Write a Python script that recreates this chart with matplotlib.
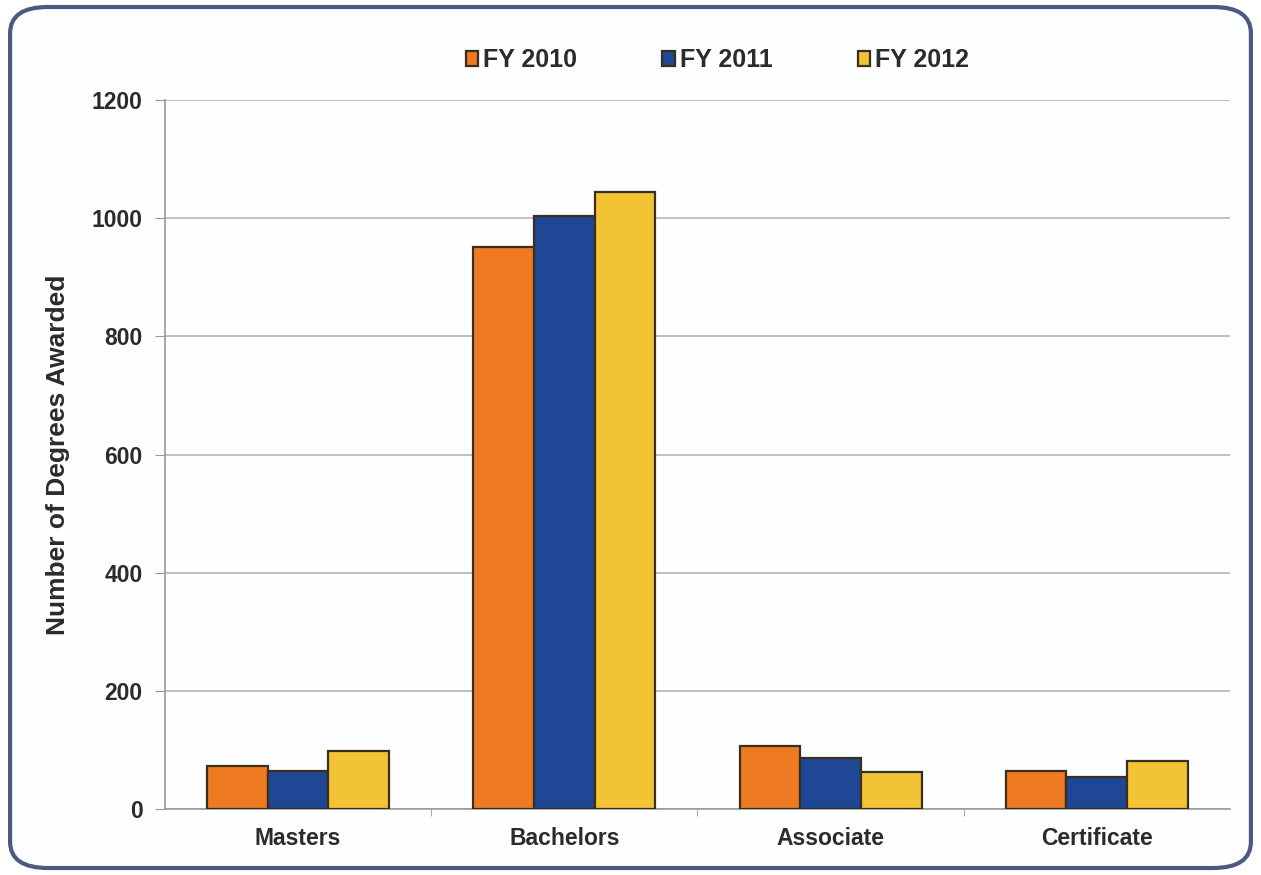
import numpy as np
import matplotlib
matplotlib.use("Agg")
import matplotlib.pyplot as plt
from matplotlib.patches import FancyBboxPatch

plt.rcParams['font.family'] = ['Liberation Sans', 'DejaVu Sans']

categories = ["Masters", "Bachelors", "Associate", "Certificate"]
years = ["FY 2010", "FY 2011", "FY 2012"]
fy2010 = [73, 951, 106, 64]
fy2011 = [64, 1004, 86, 54]
fy2012 = [98, 1044, 62, 81]

colors = ["#EE7A22", "#1E4796", "#F2C332"]
edge = "#3b2e1c"
txt = "#2b2b2b"

fig = plt.figure(figsize=(12.61, 8.75), dpi=100)
fig.patch.set_facecolor("white")

# rounded frame around everything
frame = FancyBboxPatch((0.008, 0.008), 0.984, 0.984,
                       boxstyle="round,pad=0,rounding_size=0.03",
                       transform=fig.transFigure, facecolor="#fdfeff",
                       edgecolor="#4a5a80", linewidth=3, zorder=-5)
fig.patches.append(frame)

ax = fig.add_axes([0.1308, 0.0754, 0.8446, 0.8103])
ax.set_facecolor("none")

x = np.arange(len(categories))
w = 0.228
for i, (vals, lab) in enumerate(zip([fy2010, fy2011, fy2012], years)):
    ax.bar(x + (i - 1) * w, vals, w, color=colors[i], edgecolor=edge,
           linewidth=1.6, label=lab, zorder=3)

ax.set_xlim(-0.5, len(categories) - 0.5)
ax.set_ylim(0, 1200)
ax.set_yticks(range(0, 1201, 200))
ax.yaxis.grid(True, color="#b5b5b5", linewidth=1.2, zorder=0)
ax.set_xticks(x)
ax.set_xticklabels(categories, fontsize=16.5, fontweight="bold", color=txt)
ax.set_xticks(np.arange(0.5, len(categories) - 1, 1), minor=True)
ax.tick_params(axis="x", which="major", length=0, pad=13)
ax.tick_params(axis="x", which="minor", length=5, color="#999999")
ax.tick_params(axis="y", labelsize=16.5, length=7, color="#999999", pad=9,
               labelcolor=txt)
for lbl in ax.get_yticklabels():
    lbl.set_fontweight("bold")
for s in ["top", "right"]:
    ax.spines[s].set_visible(False)
ax.spines["left"].set_color("#999999")
ax.spines["bottom"].set_color("#999999")
ax.spines["left"].set_linewidth(1.2)
ax.spines["bottom"].set_linewidth(1.2)

ax.set_ylabel("Number of Degrees Awarded", fontsize=19, fontweight="bold",
              color=txt)
ax.yaxis.set_label_coords(-0.089, 0.5)

leg = fig.legend(loc="center", bbox_to_anchor=(0.569, 0.931), ncol=3,
                 frameon=False, fontsize=18, handlelength=0.5,
                 handleheight=0.5, handletextpad=0.2, columnspacing=3.4)
for t in leg.get_texts():
    t.set_fontweight("bold")
    t.set_color(txt)

fig.savefig("out.png", dpi=100)
